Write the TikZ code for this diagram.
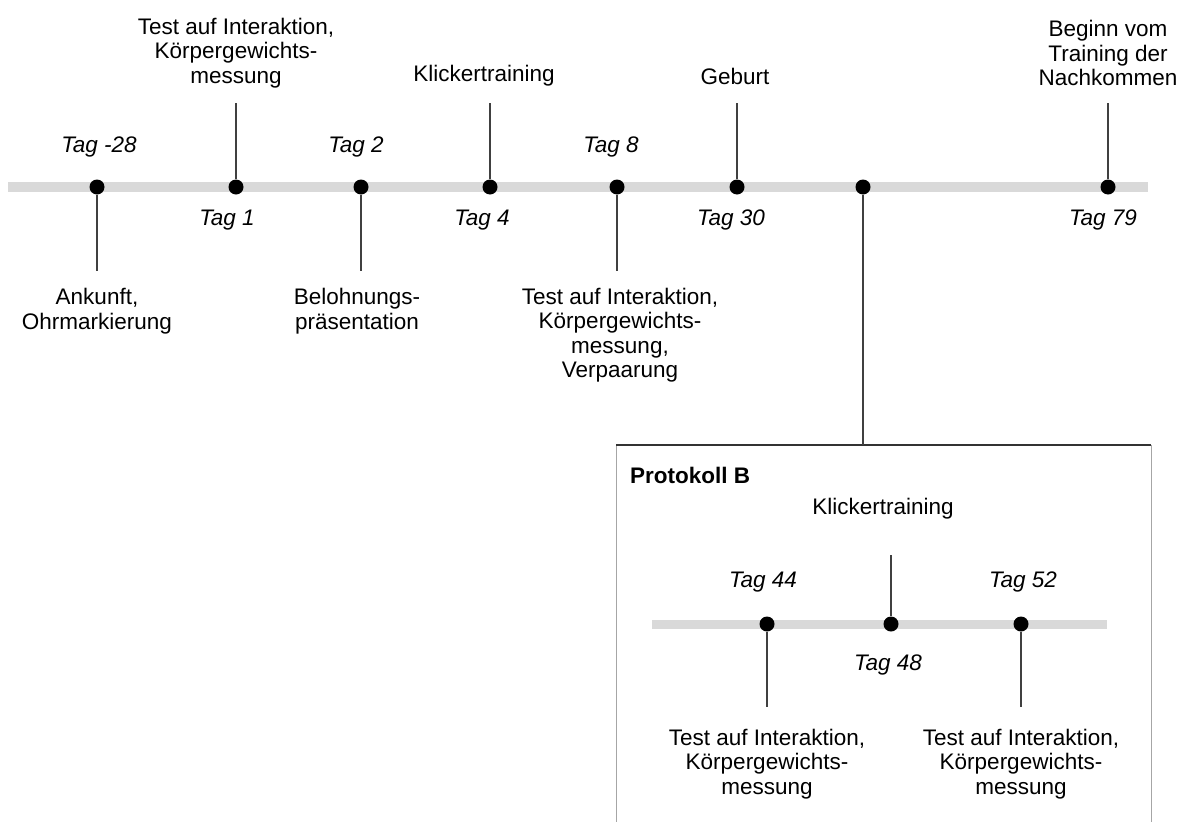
\documentclass[tikz,border=0pt]{standalone}
\usepackage{fontspec}
\setmainfont{Liberation Sans}
\begin{document}
\begin{tikzpicture}[x=1pt,y=-1pt,
  lbl/.style={font=\fontsize{22.5}{24.5}\selectfont, align=center, inner sep=0pt},
  tag/.style={font=\fontsize{22.5}{24.5}\selectfont\itshape, inner sep=0pt},
  dot/.style={circle, fill=black, minimum size=15pt, inner sep=0pt},
  tl/.style={line width=10pt, color=black!15},
  conn/.style={line width=1.3pt, color=black!75}]
\useasboundingbox (0,0) rectangle (1184,822);
% main timeline
\coordinate (ms) at (8,187);
\coordinate (me) at (1148,187);
\draw[tl] (ms) -- (me);
% box
\coordinate (bl) at (616,822);
\coordinate (btl) at (616,445);
\coordinate (btr) at (1151,445);
\coordinate (br) at (1151,822);
\draw[line width=0.8pt, color=black!35] (bl) -- (btl);
\draw[line width=0.8pt, color=black!35] (btr) -- (br);
\draw[line width=1.2pt, color=black!80] (btl) -- (btr);
\node[font=\fontsize{22.5}{24.5}\selectfont\bfseries, anchor=west, inner sep=0pt] (prot) at (630,475) {Protokoll B};
% dots
\node[dot] (d1) at (97,187) {};
\node[dot] (d2) at (236,187) {};
\node[dot] (d3) at (361,187) {};
\node[dot] (d4) at (490,187) {};
\node[dot] (d5) at (617,187) {};
\node[dot] (d6) at (737,187) {};
\node[dot] (d7) at (863,187) {};
\node[dot] (d8) at (1108,187) {};
% tags
\node[tag] (t1) at (99,147) {Tag -28};
\node[tag] (t2) at (227,220) {Tag 1};
\node[tag] (t3) at (356,147) {Tag 2};
\node[tag] (t4) at (482,220) {Tag 4};
\node[tag] (t5) at (611,147) {Tag 8};
\node[tag] (t6) at (731,220) {Tag 30};
\node[tag] (t8) at (1103,220) {Tag 79};
% labels
\node[lbl] (l1) at (97,311) {Ankunft,\\Ohrmarkierung};
\node[lbl] (l2) at (236,53) {Test auf Interaktion,\\Körpergewichts-\\messung};
\node[lbl] (l3) at (357,311) {Belohnungs-\\präsentation};
\node[lbl] (l4) at (484,76) {Klickertraining};
\node[lbl] (l5) at (620,335) {Test auf Interaktion,\\Körpergewichts-\\messung,\\Verpaarung};
\node[lbl] (l6) at (735,76) {Geburt};
\node[lbl] (l8) at (1108,53) {Beginn vom\\Training der\\Nachkommen};
% connector ends
\coordinate (e1) at (97,271);
\coordinate (e2) at (236,103);
\coordinate (e3) at (361,271);
\coordinate (e4) at (490,103);
\coordinate (e5) at (617,271);
\coordinate (e6) at (737,103);
\coordinate (e8) at (1108,103);
\draw[conn] (d1) -- (e1);
\draw[conn] (d2) -- (e2);
\draw[conn] (d3) -- (e3);
\draw[conn] (d4) -- (e4);
\draw[conn] (d5) -- (e5);
\draw[conn] (d6) -- (e6);
\draw[conn] (d8) -- (e8);
\coordinate (boxjoin) at (863,445);
\draw[conn] (d7) -- (boxjoin);
% sub timeline
\coordinate (ss) at (652,624.5);
\coordinate (se) at (1107,624.5);
\draw[tl, line width=9pt] (ss) -- (se);
\node[dot] (s1) at (767,624) {};
\node[dot] (s2) at (891,624) {};
\node[dot] (s3) at (1021,624) {};
\node[tag] (st1) at (763,582) {Tag 44};
\node[tag] (st2) at (888,665) {Tag 48};
\node[tag] (st3) at (1023,582) {Tag 52};
\node[lbl] (sl2) at (883,509) {Klickertraining};
\node[lbl] (sl1) at (767,764) {Test auf Interaktion,\\Körpergewichts-\\messung};
\node[lbl] (sl3) at (1021,764) {Test auf Interaktion,\\Körpergewichts-\\messung};
\coordinate (se1) at (767,707);
\coordinate (se2) at (891,555);
\coordinate (se3) at (1021,707);
\draw[conn] (s1) -- (se1);
\draw[conn] (s2) -- (se2);
\draw[conn] (s3) -- (se3);
\end{tikzpicture}
\end{document}
